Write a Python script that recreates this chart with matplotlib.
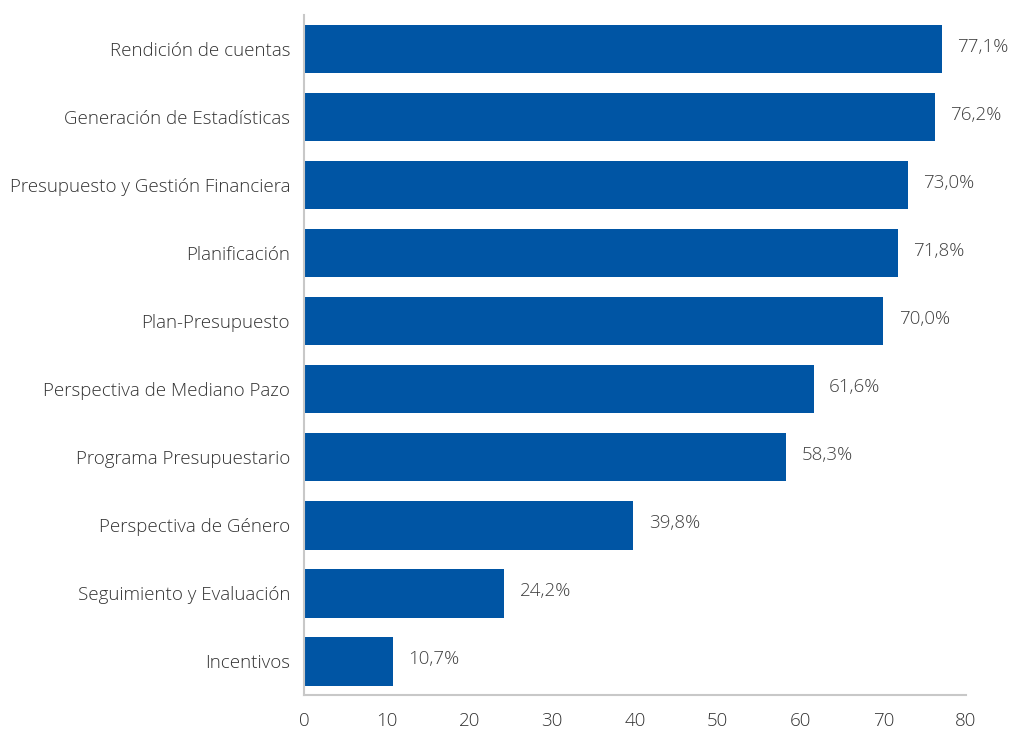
import numpy as np
import matplotlib.pyplot as plt

categories = [
    'Rendición de cuentas',
    'Generación de Estadísticas',
    'Presupuesto y Gestión Financiera',
    'Planificación',
    'Plan-Presupuesto',
    'Perspectiva de Mediano Pazo',
    'Programa Presupuestario',
    'Perspectiva de Género',
    'Seguimiento y Evaluación',
    'Incentivos',
]
values = [77.1, 76.2, 73.0, 71.8, 70.0, 61.6, 58.3, 39.8, 24.2, 10.7]
xticks = [0, 10, 20, 30, 40, 50, 60, 70, 80]

plt.rcParams['font.family'] = ['Open Sans', 'DejaVu Sans']
plt.rcParams['font.weight'] = 'light'

fig = plt.figure(figsize=(10.09, 7.31), dpi=100)
ax = fig.add_axes([0.3013, 0.0492, 0.6561, 0.9303])

y = np.arange(len(categories))
ax.barh(y, values, height=0.72, color='#0055a4')

for yi, v in zip(y, values):
    label = f'{v:.1f}%'.replace('.', ',')
    ax.annotate(label, (v, yi), xytext=(11, 1.5), textcoords='offset points',
                va='center', ha='left', fontsize=13.5, color='#404040')

ax.set_yticks(y)
ax.set_yticklabels(categories, fontsize=13.5, color='#333333')
ax.set_ylim(len(categories) - 0.5, -0.5)
ax.set_xlim(0, 80)
ax.set_xticks(xticks)
ax.set_xticklabels([str(t) for t in xticks], fontsize=13.5, color='#333333')
ax.tick_params(length=0, pad=10)
ax.tick_params(axis='x', pad=12)

for side in ['top', 'right']:
    ax.spines[side].set_visible(False)
for side in ['left', 'bottom']:
    ax.spines[side].set_color('#c8c8c8')
    ax.spines[side].set_linewidth(1.5)

fig.savefig('out.png', dpi=100)
